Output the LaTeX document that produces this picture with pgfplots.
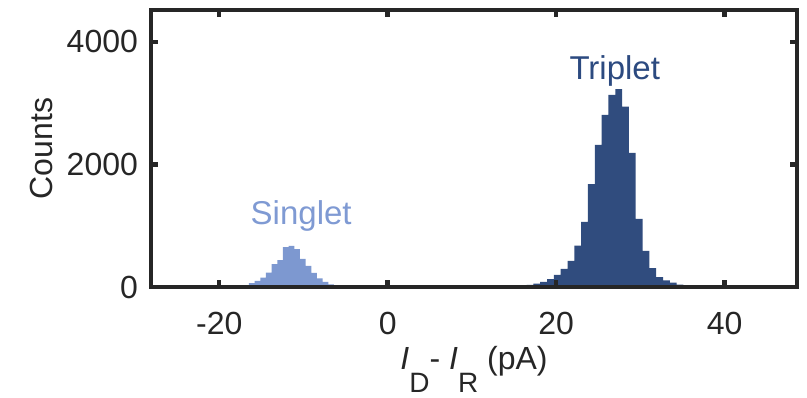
\documentclass[border=0pt]{standalone}
\usepackage{fontspec}
\setmainfont{Liberation Sans}
\usepackage{pgfplots}
\pgfplotsset{compat=1.18}
\definecolor{sing}{RGB}{125,152,208}
\definecolor{trip}{RGB}{48,76,126}
\definecolor{singtxt}{RGB}{127,154,211}
\definecolor{triptxt}{RGB}{44,74,128}
\definecolor{axc}{RGB}{38,38,38}
\begin{document}
\fontsize{16}{19}\selectfont
\begin{tikzpicture}
\useasboundingbox (-75.5pt,-55pt) rectangle (328pt,143.5pt);
\begin{axis}[
  scale only axis, width=323pt, height=138.5pt,
  xmin=-28.1, xmax=48.6, ymin=0, ymax=4520,
  axis line style={line width=2.2pt, color=axc},
  xtick={-20,0,20,40}, ytick={0,2000,4000},
  tick align=inside, tick pos=both, major tick length=3.5pt,
  tick style={line width=2.2pt, color=axc},
  axis on top,
  /pgf/number format/assume math mode=true,
  /pgf/number format/1000 sep={},
  tick label style={font=\fontsize{16}{19}\selectfont, color=axc},
  xticklabel style={anchor=base, yshift=-23.5pt},
  yticklabel style={xshift=-1pt},
  label style={font=\fontsize{16}{19}\selectfont, color=axc},
  xlabel={\textit{I}\raisebox{-0.7em}{\fontsize{14}{14}\selectfont D}- \textit{I}\raisebox{-0.7em}{\fontsize{14}{14}\selectfont R} (pA)},
  xlabel style={at={(axis description cs:0.5,-0.2996)}, anchor=base},
  ylabel={Counts},
  ylabel style={at={(axis description cs:-0.1517,0.5)}, anchor=base},
]
\addplot[ybar interval, fill=sing, draw=none] coordinates {
(-16.47,65) (-15.80,100) (-15.12,155) (-14.45,235) (-13.78,375) (-13.10,440)
(-12.43,650) (-11.76,670) (-11.09,620) (-10.41,460) (-9.74,345) (-9.07,230)
(-8.40,140) (-7.72,85) (-7.05,45) (-6.38,20) (-5.70,20)
};
\addplot[ybar interval, fill=trip, draw=none] coordinates {
(15.68,20) (16.49,35) (17.30,55) (18.11,85) (18.92,130) (19.73,196)
(20.54,295) (21.35,425) (22.16,675) (22.97,1064) (23.78,1680) (24.59,2320)
(25.40,2810) (26.21,3135) (27.02,3230) (27.83,2945) (28.64,2190) (29.45,1110)
(30.26,590) (31.07,310) (31.88,163) (32.69,110) (33.50,70) (34.31,40)
(35.12,20) (35.93,20)
};
\node[anchor=base, text=singtxt, font=\fontsize{16.5}{19}\selectfont] at (axis cs:-10.27,1012) {Singlet};
\node[anchor=base, text=triptxt, font=\fontsize{16.5}{19}\selectfont] at (axis cs:26.96,3380) {Triplet};
\end{axis}
\end{tikzpicture}
\end{document}
